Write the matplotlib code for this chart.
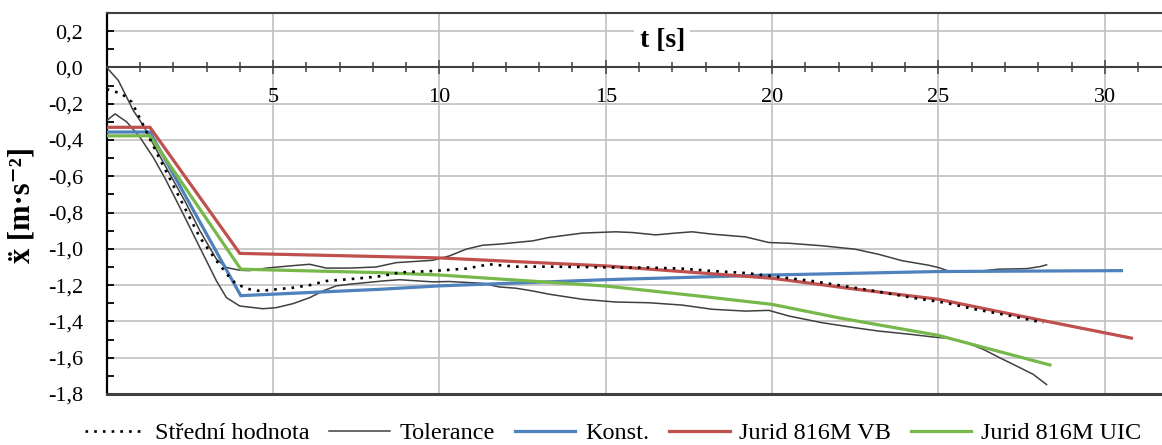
import matplotlib
matplotlib.use("Agg")
import matplotlib.pyplot as plt
from matplotlib.ticker import MultipleLocator, FixedLocator, FuncFormatter

# --- data -------------------------------------------------------------
mean_t = [0.0, 0.45, 0.75, 1.05, 1.5, 2.0, 2.8, 3.3, 3.7, 3.9, 4.3, 4.6, 5.1, 5.6,
          6.1, 6.6, 7.3, 7.8, 8.3, 8.8, 9.8, 10.8, 11.5, 12.3, 13.3, 14.3, 15.3,
          16.3, 17.3, 18.2, 19.2, 20.2, 21.2, 22.2, 23.2, 24.2, 25.2, 26.1, 27.2, 28.15]
mean_a = [-0.12, -0.145, -0.19, -0.30, -0.47, -0.65, -0.937, -1.066, -1.159, -1.195,
          -1.223, -1.232, -1.223, -1.214, -1.200, -1.177, -1.167, -1.159, -1.149,
          -1.130, -1.122, -1.109, -1.085, -1.098, -1.098, -1.100, -1.103, -1.103,
          -1.109, -1.122, -1.133, -1.155, -1.177, -1.206, -1.236, -1.269, -1.297,
          -1.333, -1.370, -1.407]

upper_t = [0.0, 0.35, 0.55, 0.8, 1.1, 1.6, 2.36, 2.8, 3.3, 3.6, 4.0, 4.3, 4.8, 5.5,
           6.1, 6.6, 7.3, 8.1, 8.7, 9.8, 10.3, 10.8, 11.3, 11.8, 12.3, 12.8, 13.3,
           13.8, 14.3, 15.3, 15.8, 16.5, 17.1, 17.6, 18.2, 19.2, 19.9, 20.5, 21.5,
           22.5, 23.2, 23.9, 24.7, 25.0, 25.3, 26.3, 26.8, 27.65, 28.05, 28.25]
upper_a = [0.0, -0.072, -0.145, -0.238, -0.32, -0.49, -0.74, -0.90, -1.057, -1.103,
           -1.118, -1.12, -1.106, -1.094, -1.085, -1.106, -1.106, -1.10, -1.076,
           -1.063, -1.039, -1.002, -0.98, -0.974, -0.965, -0.956, -0.937, -0.925,
           -0.913, -0.906, -0.91, -0.923, -0.913, -0.906, -0.919, -0.934, -0.965,
           -0.969, -0.983, -1.002, -1.03, -1.065, -1.09, -1.103, -1.122, -1.122,
           -1.112, -1.109, -1.098, -1.088]

lower_t = [0.0, 0.25, 0.6, 1.0, 1.4, 1.75, 2.3, 2.8, 3.3, 3.6, 4.0, 4.7, 5.1, 5.6,
           6.1, 6.5, 6.9, 7.3, 7.8, 8.3, 8.8, 9.8, 10.3, 11.3, 11.8, 12.3, 12.8,
           13.3, 14.3, 15.3, 16.3, 17.3, 18.2, 19.2, 19.9, 20.5, 21.5, 22.5, 23.2,
           24.2, 24.85, 25.35, 25.85, 26.35, 26.85, 27.35, 27.85, 28.25]
lower_a = [-0.293, -0.256, -0.30, -0.385, -0.496, -0.61, -0.808, -0.993, -1.177,
           -1.269, -1.315, -1.33, -1.324, -1.302, -1.269, -1.232, -1.204, -1.195,
           -1.186, -1.177, -1.17, -1.182, -1.18, -1.19, -1.21, -1.217, -1.232, -1.25,
           -1.278, -1.293, -1.297, -1.31, -1.333, -1.343, -1.339, -1.37, -1.407,
           -1.435, -1.453, -1.472, -1.486, -1.494, -1.518, -1.554, -1.601, -1.646,
           -1.692, -1.748]

konst_t = [0.0, 1.3, 4.03, 8.2, 10.0, 15.0, 20.0, 25.0, 30.5]
konst_a = [-0.356, -0.356, -1.258, -1.223, -1.204, -1.170, -1.144, -1.125, -1.120]

vb_t = [0.0, 1.3, 4.0, 10.0, 15.0, 20.0, 22.5, 25.0, 28.0, 30.8]
vb_a = [-0.330, -0.330, -1.025, -1.050, -1.094, -1.162, -1.222, -1.278, -1.390, -1.492]

uic_t = [0.0, 1.3, 4.03, 8.2, 10.0, 15.0, 17.7, 20.0, 22.0, 25.0, 28.35]
uic_a = [-0.377, -0.377, -1.112, -1.131, -1.144, -1.205, -1.258, -1.306, -1.380,
         -1.477, -1.640]

x_major = [5, 10, 15, 20, 25, 30]
y_ticks = [-1.8, -1.6, -1.4, -1.2, -1.0, -0.8, -0.6, -0.4, -0.2, 0.0, 0.2]

# --- style ------------------------------------------------------------
serif = ["Liberation Serif", "DejaVu Serif"]
plt.rcParams["font.family"] = serif

W, H = 1162, 445
fig = plt.figure(figsize=(W / 100, H / 100), dpi=100)
ax = fig.add_axes([106.7 / W, 1 - 394 / H, 1 - 106.7 / W, (394 - 13) / H])

c_blue = "#4F81BD"
c_red = "#C0504D"
c_green = "#77B84A"
c_gray = "#404040"

ax.set_xlim(0, (W - 106.7) / 33.27)
ax.set_ylim(-1.8, 0.3)

# grid
for yv in y_ticks:
    if abs(yv) > 1e-9 and yv > -1.79:
        ax.axhline(yv, color="#C0C0C0", lw=1.2, zorder=0)
for xv in x_major:
    ax.axvline(xv, color="#C0C0C0", lw=1.2, zorder=0)

# curves
ax.plot(lower_t, lower_a, color=c_gray, lw=1.1, zorder=3, label="Tolerance")
ax.plot(upper_t, upper_a, color=c_gray, lw=1.1, zorder=3)
ax.plot(konst_t, konst_a, color=c_blue, lw=2.3, zorder=4, label="Konst.",
        solid_joinstyle="miter")
ax.plot(vb_t, vb_a, color=c_red, lw=2.3, zorder=4, label="Jurid 816M VB",
        solid_joinstyle="miter")
ax.plot(uic_t, uic_a, color=c_green, lw=2.3, zorder=4, label="Jurid 816M UIC",
        solid_joinstyle="miter")
ax.plot(mean_t, mean_a, color="black", lw=1.9, ls=(0, (1, 2.3)), zorder=5,
        label="Střední hodnota")

# spines / axes
ax.spines["right"].set_visible(False)
ax.spines["top"].set_color(c_gray)
ax.spines["top"].set_linewidth(1.5)
ax.spines["left"].set_color("black")
ax.spines["left"].set_linewidth(1.6)
ax.spines["bottom"].set_position(("data", 0.0))
ax.spines["bottom"].set_color(c_gray)
ax.spines["bottom"].set_linewidth(1.5)
ax.spines["bottom"].set_zorder(6)
ax.axhline(-1.8, color=c_gray, lw=2.2, zorder=6, clip_on=False)

ax.xaxis.set_major_locator(FixedLocator(x_major))
ax.xaxis.set_minor_locator(MultipleLocator(1))
ax.yaxis.set_major_locator(FixedLocator(y_ticks))
ax.yaxis.set_minor_locator(MultipleLocator(0.1))

ax.tick_params(axis="x", which="major", direction="inout", length=10, width=1.1,
               color=c_gray, pad=10, labelsize=16)
ax.tick_params(axis="x", which="minor", direction="inout", length=6.5, width=1.1,
               color=c_gray)
ax.tick_params(axis="y", which="both", direction="in", length=5, width=1.3,
               color="black")
ax.tick_params(axis="y", which="major", pad=17, labelsize=16)

comma = FuncFormatter(lambda v, p: f"{v:.1f}".replace(".", ",").replace("-0,0", "0,0"))
ax.yaxis.set_major_formatter(comma)
ax.xaxis.set_major_formatter(FuncFormatter(lambda v, p: f"{v:g}"))

# axis titles
ax.text(16.7, 0.15, "t [s]", ha="center", va="center", fontsize=20,
        fontweight="bold", zorder=7,
        bbox=dict(facecolor="white", edgecolor="none", pad=4))
fig.text(22 / W, 1 - 205 / H, "ẍ [m·s⁻²]", rotation=90, ha="center", va="center",
         fontsize=22, fontweight="bold", family=serif)

# legend
handles, labels = ax.get_legend_handles_labels()
order = ["Střední hodnota", "Tolerance", "Konst.", "Jurid 816M VB", "Jurid 816M UIC"]
hmap = dict(zip(labels, handles))
fig.legend([hmap[k] for k in order], order, loc="center", ncol=5,
           bbox_to_anchor=(613 / W, 1 - 433 / H), frameon=False, fontsize=17.5,
           handlelength=2.5, handletextpad=0.4, columnspacing=0.8,
           borderaxespad=0, borderpad=0)

fig.savefig("out.png", dpi=100)
